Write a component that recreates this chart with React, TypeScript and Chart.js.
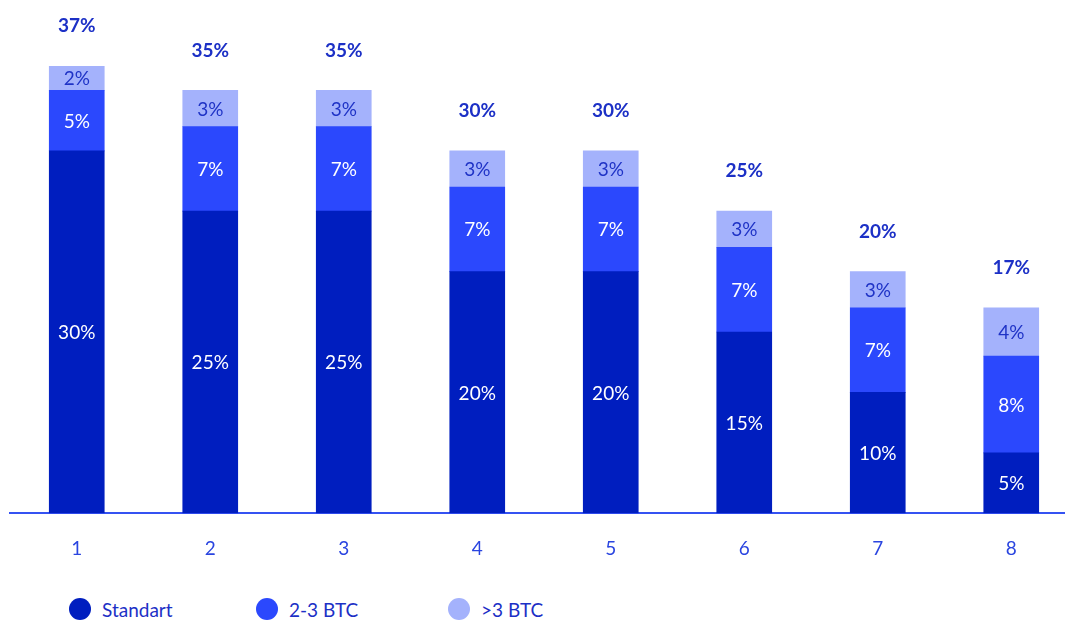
import React, { useEffect, useRef } from "react";
import { Chart, registerables } from "chart.js";

Chart.register(...registerables);

const categories = ["1", "2", "3", "4", "5", "6", "7", "8"];
const standart = [30, 25, 25, 20, 20, 15, 10, 5];
const btc23 = [5, 7, 7, 7, 7, 7, 7, 8];
const btc3plus = [2, 3, 3, 3, 3, 3, 3, 4];
const totals = [37, 35, 35, 30, 30, 25, 20, 17];

const seriesNames = ["Standart", "2-3 BTC", ">3 BTC"];
const seriesColors = ["#001ebf", "#2b48fd", "#a4b2fc"];
const labelColors = ["#ffffff", "#ffffff", "#1f33c6"];
const textBlue = "#1c30c6";
const FONT = "Lato, 'Open Sans', sans-serif";

const labelsPlugin = {
  id: "segLabels",
  afterDatasetsDraw(chart: any) {
    const ctx = chart.ctx;
    ctx.save();
    ctx.textAlign = "center";
    ctx.textBaseline = "middle";
    chart.data.datasets.forEach((ds: any, di: number) => {
      const meta = chart.getDatasetMeta(di);
      ctx.font = `400 19px ${FONT}`;
      ctx.fillStyle = labelColors[di];
      meta.data.forEach((el: any, i: number) => {
        const v = ds.data[i];
        const cy = (el.y + el.base) / 2;
        ctx.fillText(`${v}%`, el.x, cy + 1);
      });
    });
    const last = chart.getDatasetMeta(chart.data.datasets.length - 1);
    ctx.font = `700 19px ${FONT}`;
    ctx.fillStyle = textBlue;
    last.data.forEach((el: any, i: number) => {
      ctx.fillText(`${totals[i]}%`, el.x, el.y - 40);
    });
    ctx.restore();
  },
};

export default function App() {
  const ref = useRef<HTMLCanvasElement>(null);

  useEffect(() => {
    document.body.style.margin = "0";
    document.body.style.overflow = "hidden";
    const chart = new Chart(ref.current!, {
      type: "bar",
      data: {
        labels: categories,
        datasets: [standart, btc23, btc3plus].map((d, i) => ({
          label: seriesNames[i],
          data: d,
          backgroundColor: seriesColors[i],
          borderWidth: 0,
          barThickness: 55,
        })),
      },
      options: {
        animation: false,
        responsive: false,
        maintainAspectRatio: false,
        layout: { padding: { top: 30, left: 10, right: 2, bottom: 0 } },
        plugins: {
          legend: { display: false },
          tooltip: { enabled: false },
        },
        scales: {
          x: {
            stacked: true,
            grid: { display: false, drawTicks: false, tickLength: 0 },
            border: { display: true, color: "#3552f2", width: 2 },
            ticks: {
              color: "#2a45e0",
              font: { family: FONT, size: 19, weight: "400" },
              padding: 24,
            },
          },
          y: {
            stacked: true,
            display: false,
            min: 0,
            max: 40,
          },
        },
      },
      plugins: [labelsPlugin],
    });
    return () => chart.destroy();
  }, []);

  const legendItems = [
    { x: 80, name: seriesNames[0], color: seriesColors[0] },
    { x: 267, name: seriesNames[1], color: seriesColors[1] },
    { x: 459, name: seriesNames[2], color: seriesColors[2] },
  ];

  return (
    <div style={{ position: "relative", width: 1080, height: 623, overflow: "hidden" }}>
      <canvas ref={ref} width={1080} height={584} style={{ display: "block" }} />
      {legendItems.map((it) => (
        <div
          key={it.name}
          style={{
            position: "absolute",
            left: it.x - 11,
            top: 609 - 12,
            height: 24,
            display: "flex",
            alignItems: "center",
            fontFamily: FONT,
            fontSize: 19,
            color: textBlue,
            whiteSpace: "nowrap",
          }}
        >
          <span
            style={{
              display: "inline-block",
              width: 22,
              height: 22,
              borderRadius: "50%",
              background: it.color,
              marginRight: 11,
            }}
          />
          {it.name}
        </div>
      ))}
    </div>
  );
}
